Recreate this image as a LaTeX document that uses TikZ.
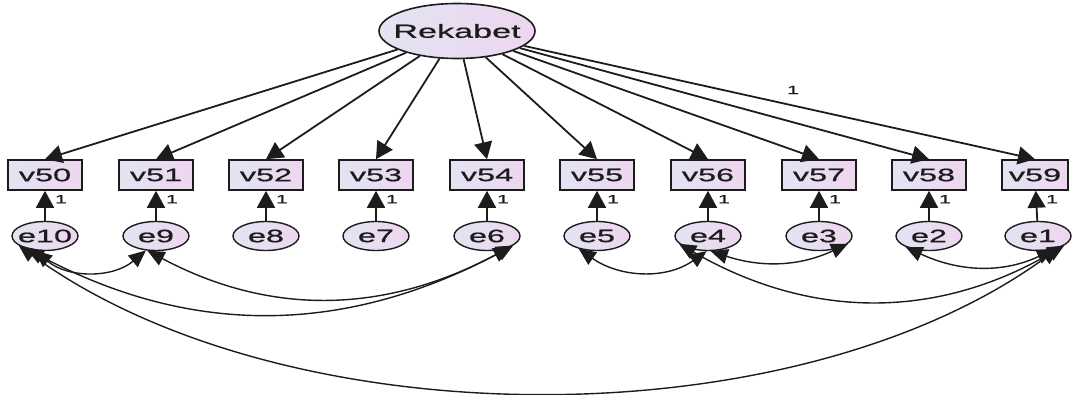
\documentclass[tikz,border=0pt]{standalone}
\usepackage{fontspec}
\setmainfont{Liberation Sans}[FakeStretch=1.8,FakeBold=0.8]
\usetikzlibrary{arrows.meta,shapes.geometric}
\definecolor{fillL}{RGB}{226,228,242}
\definecolor{fillR}{RGB}{238,214,240}
\definecolor{ink}{RGB}{28,28,28}
% text that does not widen its shape
\newcommand\tx[1]{\makebox[0pt]{#1}}
\begin{document}
\begin{tikzpicture}[x=1pt,y=1pt,
  obs/.style={rectangle, draw=ink, line width=1.6pt, left color=fillL, right color=fillR,
    minimum width=74pt, minimum height=30pt, inner sep=0pt, text=ink,
    font=\fontsize{18}{18}\selectfont},
  err/.style={ellipse, draw=ink, line width=1.4pt, left color=fillL, right color=fillR,
    minimum width=66pt, minimum height=29pt, inner sep=0pt, text=ink,
    font=\fontsize{18}{18}\selectfont},
  lat/.style={ellipse, draw=ink, line width=1.6pt, left color=fillL, right color=fillR,
    minimum width=156pt, minimum height=55pt, inner sep=0pt, text=ink,
    font=\fontsize{19}{19}\selectfont},
  load/.style={draw=ink, line width=1.8pt, -{Triangle[width=18pt,length=17pt]}},
  resid/.style={draw=ink, line width=1.8pt, -{Triangle[width=18pt,length=17pt]}},
  cov/.style={draw=ink, line width=1.4pt,
    {Triangle[width=15pt,length=17pt]}-{Triangle[width=15pt,length=17pt]}},
  one/.style={font=\fontsize{12}{12}\selectfont, text=ink, inner sep=0pt}
]
\useasboundingbox (0,0) rectangle (1073,394);

% latent factor
\node[lat] (R) at (457,363) {\tx{Rekabet}};

% observed indicators and their error terms
\foreach \i/\j/\x in {0/10/45,1/9/156,2/8/266,3/7/376,4/6/487,5/5/597,6/4/708,7/3/819,8/2/929}{
  \node[obs] (v5\i) at (\x,219) {v5\i};
  \node[err] (e\j) at (\x,158) {\tx{e\j}};
}
\node[obs, minimum width=66pt] (v59) at (1035,219) {v59};
\node[err] (e1) at (1038,158) {\tx{e1}};

% factor loadings
\foreach \i in {0,...,9}{
  \draw[load] (R) -- (v5\i.north);
}
\node[one] (w59) at (793,304) {1};

% error paths
\foreach \i/\j in {0/10,1/9,2/8,3/7,4/6,5/5,6/4,7/3,8/2,9/1}{
  \draw[resid] (e\j) -- (v5\i) node[one, pos=0.72, right=9pt] {1};
}

% error covariances
\draw[cov] (e10.235) to[out=-40,in=-140] (e9.235);
\draw[cov] (e9.240) .. controls +(-28:141) and +(-152:141) .. (e6.-25);
\draw[cov] (e10.215) .. controls +(-28:189) and +(-152:189) .. (e6.-20);
\draw[cov] (e10.200) .. controls +(-36:330) and +(-144:330) .. (e1.-30);
\draw[cov] (e5.215) to[out=-35,in=-145] (e4.-95);
\draw[cov] (e4.-80) to[out=-18,in=-155] (e3.-15);
\draw[cov] (e4.195) .. controls +(-30:150) and +(-150:150) .. (e1.-20);
\draw[cov] (e2.205) to[out=-25,in=-155] (e1.-40);
\end{tikzpicture}
\end{document}
